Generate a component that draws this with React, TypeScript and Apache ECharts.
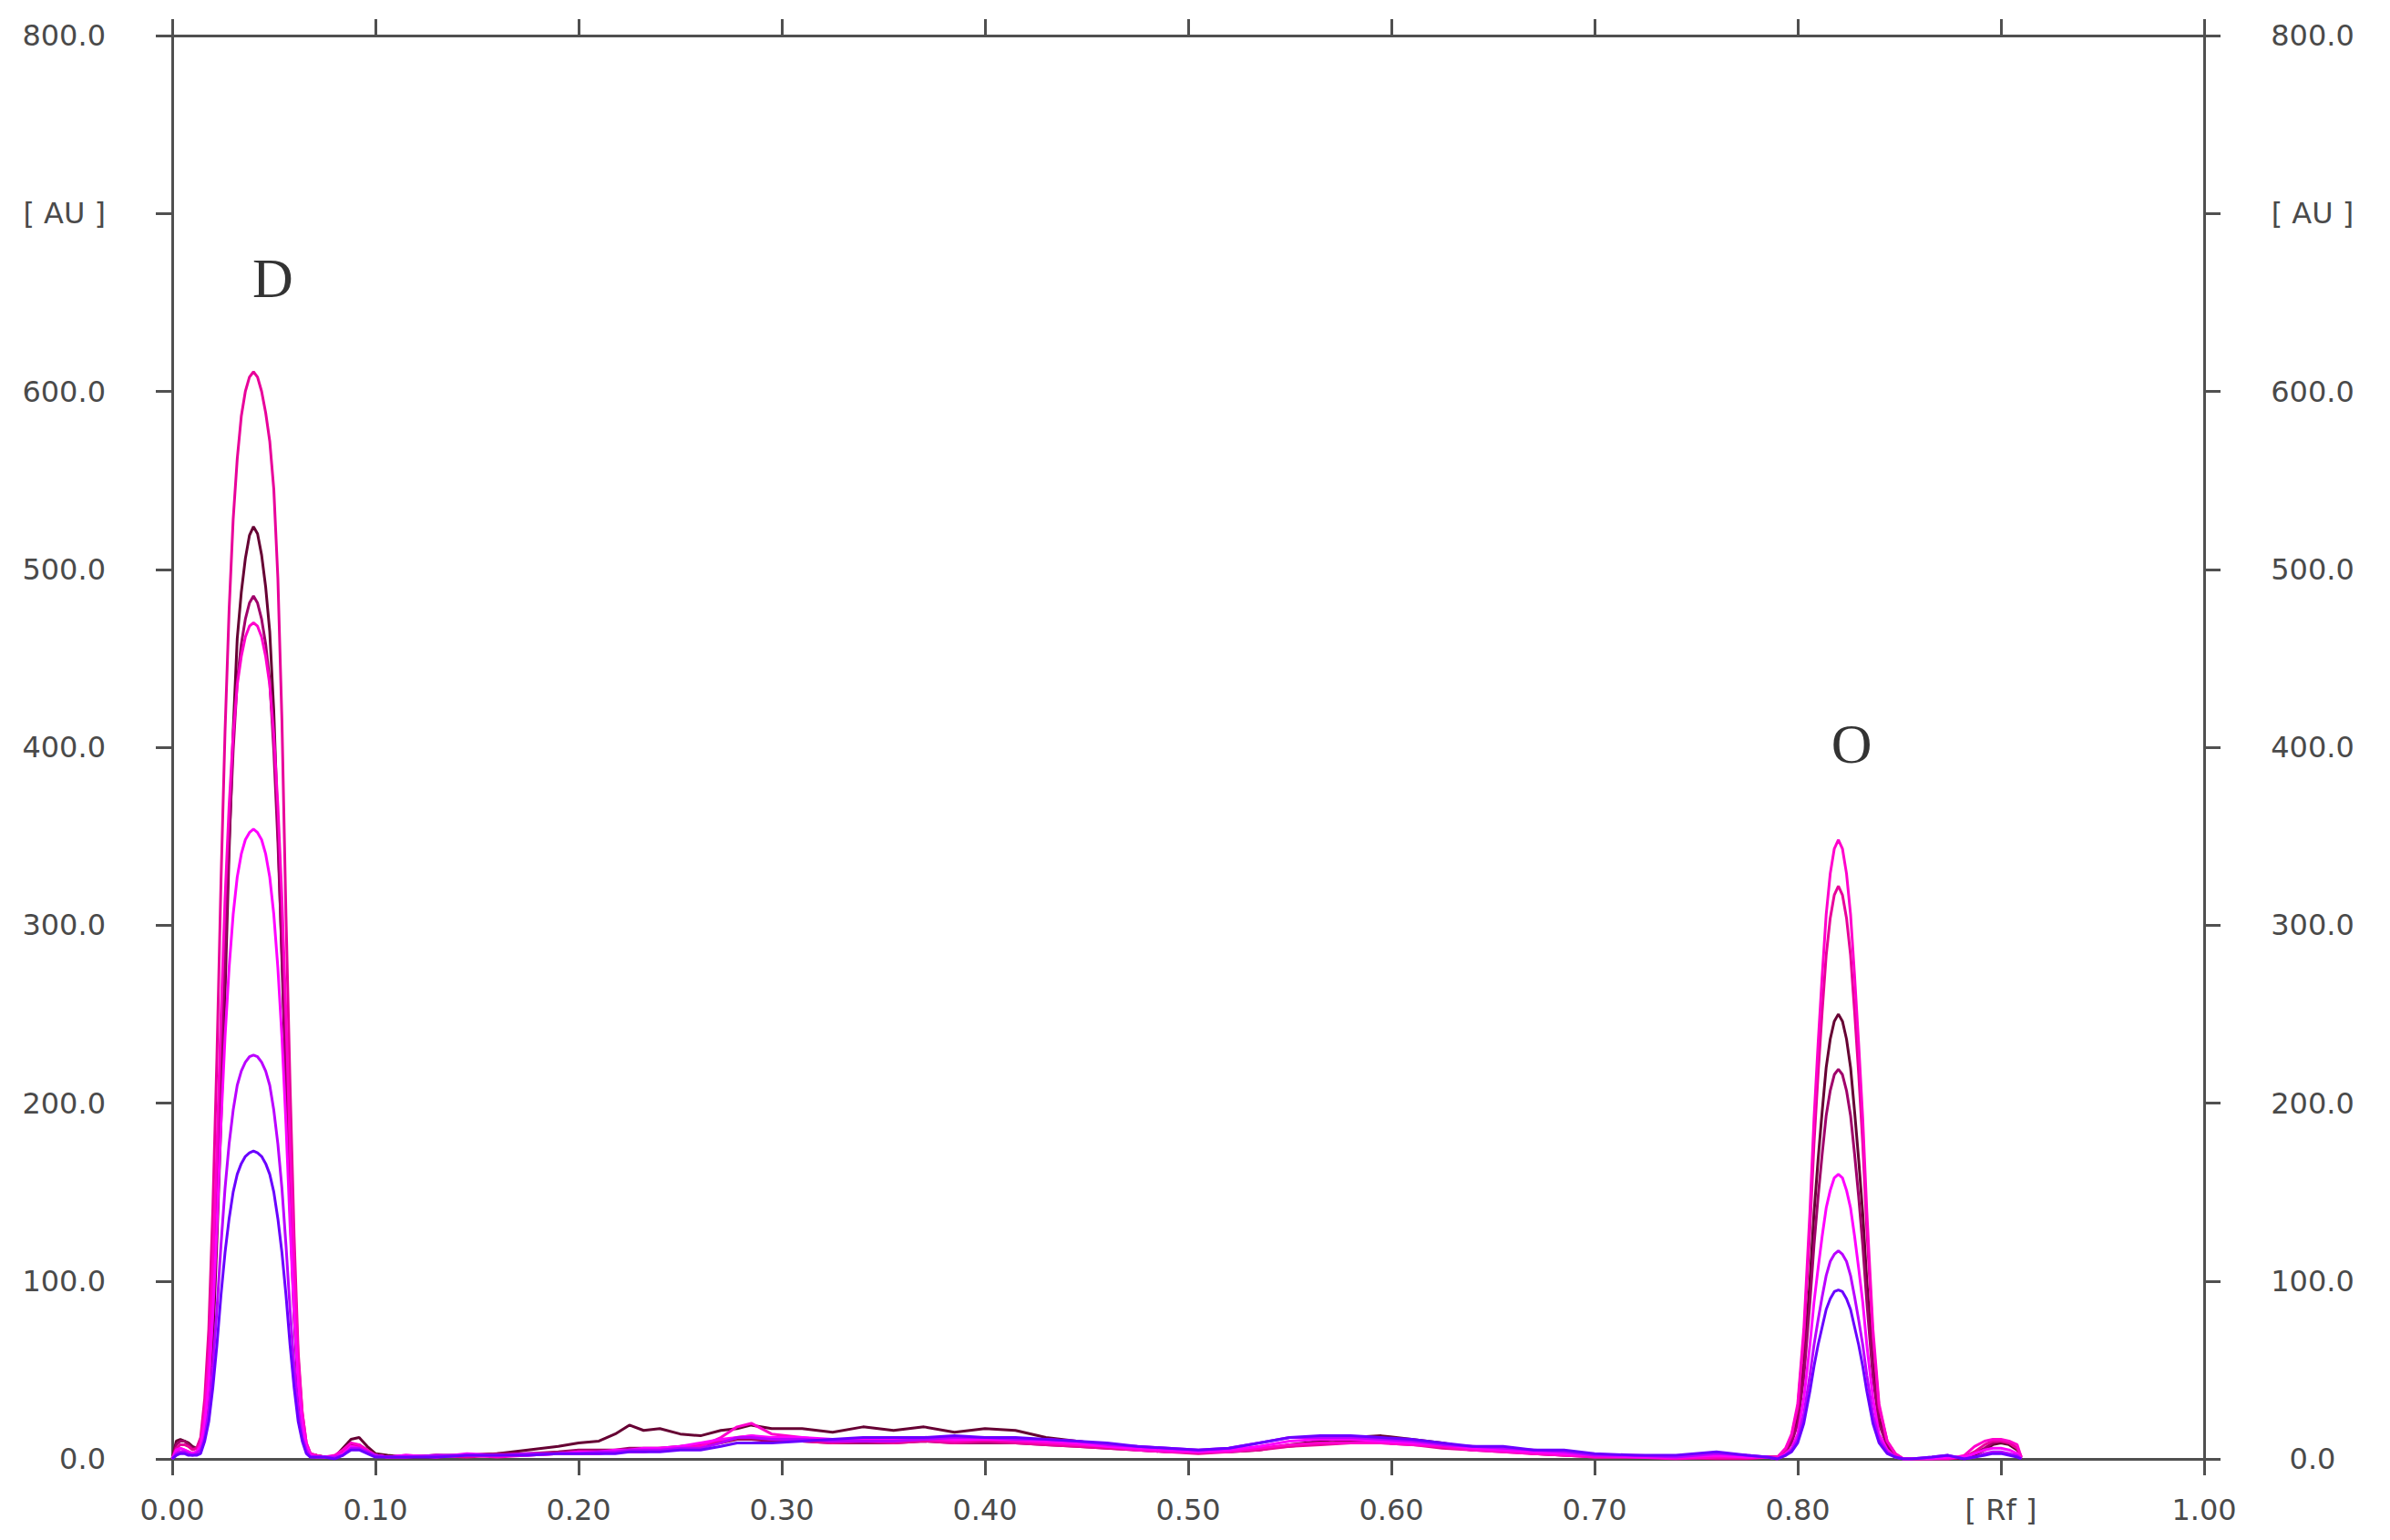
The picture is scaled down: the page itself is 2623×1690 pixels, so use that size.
import React, { useEffect, useRef } from "react";
import * as echarts from "echarts";

// Rf positions shared by all traces
const rf = [
  0.000, 0.002, 0.004, 0.006, 0.008, 0.010,
  0.012, 0.014, 0.016, 0.018, 0.020, 0.022, 0.024, 0.026, 0.028, 0.030, 0.032, 0.034, 0.036, 0.038,
  0.040, 0.042, 0.044, 0.046, 0.048, 0.050, 0.052, 0.054, 0.056, 0.058, 0.060, 0.062, 0.064, 0.066, 0.068,
  0.071, 0.075, 0.080, 0.084, 0.088, 0.092, 0.096, 0.100, 0.106, 0.115,
  0.130, 0.145, 0.160, 0.175, 0.190, 0.200, 0.210, 0.218, 0.225, 0.232,
  0.240, 0.250, 0.260, 0.270, 0.278, 0.285, 0.295, 0.310, 0.325, 0.340,
  0.355, 0.370, 0.385, 0.400, 0.415, 0.430, 0.445, 0.460, 0.475, 0.490,
  0.505, 0.520, 0.535, 0.550, 0.565, 0.580, 0.595, 0.610, 0.625, 0.640,
  0.655, 0.670, 0.685, 0.700, 0.720, 0.740, 0.760, 0.775, 0.785,
  0.790, 0.794, 0.797, 0.800, 0.803, 0.806, 0.808, 0.810, 0.812, 0.814, 0.816, 0.818, 0.820,
  0.822, 0.824, 0.826, 0.828, 0.830, 0.832, 0.834, 0.837, 0.840, 0.844, 0.848, 0.852,
  0.856, 0.866, 0.874, 0.882, 0.887, 0.892, 0.896, 0.900, 0.904, 0.908, 0.910,
];

const trackA = [
  0, 6, 8, 8, 7, 5,
  6, 12, 34, 73, 141, 226, 324, 409, 477, 528, 562, 586, 600, 608, 611, 608, 600, 588, 572, 545, 495, 415, 305, 210, 125, 60, 26, 9, 3,
  2, 1, 1, 3, 7, 7, 4, 2, 1, 1,
  2, 1, 2, 3, 3, 4, 4, 4, 5, 5,
  6, 6, 8, 10, 12, 13, 11, 10, 9, 10,
  9, 10, 9, 10, 9, 8, 7, 6, 5, 4,
  3, 4, 5, 7, 8, 9, 9, 8, 6, 5,
  4, 3, 2, 1, 1, 1, 0, 0, 1,
  1, 5, 13, 29, 68, 129, 177, 216, 251, 283, 304, 317, 322, 317, 304, 283, 251, 216, 177, 129, 68, 29, 10, 3, 0,
  0, 0, 0, 1, 4, 8, 10, 10, 9, 6, 1,
];
const trackB = [
  0, 4, 6, 5, 4, 3,
  4, 9, 26, 56, 108, 174, 249, 315, 367, 407, 435, 451, 462, 468, 470, 468, 462, 451, 435, 407, 367, 315, 249, 174, 108, 56, 26, 9, 3,
  2, 1, 2, 5, 9, 8, 5, 2, 1, 2,
  1, 2, 1, 2, 3, 3, 3, 4, 4, 4,
  5, 6, 7, 12, 18, 20, 14, 12, 10, 11,
  10, 11, 10, 11, 10, 9, 8, 7, 5, 4,
  4, 4, 6, 8, 9, 9, 9, 8, 7, 5,
  4, 3, 2, 1, 1, 0, 1, 1, 1,
  1, 6, 14, 31, 73, 139, 191, 233, 271, 306, 329, 343, 348, 343, 329, 306, 271, 233, 191, 139, 73, 31, 10, 3, 0,
  0, 0, 0, 2, 7, 10, 11, 11, 10, 8, 1,
];
const trackC = [
  0, 10, 11, 10, 9, 7,
  6, 5, 12, 31, 66, 123, 189, 262, 341, 409, 461, 487, 506, 519, 524, 520, 508, 490, 465, 420, 355, 280, 205, 140, 80, 38, 14, 5, 2,
  2, 1, 1, 6, 11, 12, 7, 3, 2, 1,
  1, 2, 3, 5, 7, 9, 10, 14, 19, 16,
  17, 14, 13, 16, 17, 19, 17, 17, 15, 18,
  16, 18, 15, 17, 16, 12, 10, 8, 6, 5,
  4, 4, 5, 8, 10, 12, 13, 11, 9, 6,
  5, 4, 3, 2, 1, 1, 1, 1, 1,
  1, 4, 10, 23, 53, 100, 138, 168, 195, 220, 236, 246, 250, 246, 236, 220, 195, 168, 138, 100, 53, 23, 8, 2, 0,
  0, 0, 1, 0, 2, 5, 8, 9, 8, 5, 0,
];
const trackD = [
  0, 8, 10, 10, 8, 6,
  6, 7, 18, 44, 87, 146, 216, 284, 347, 398, 437, 458, 472, 481, 485, 481, 472, 458, 437, 398, 347, 284, 216, 146, 87, 44, 18, 7, 2,
  2, 1, 1, 4, 8, 8, 5, 2, 1, 1,
  2, 2, 3, 3, 4, 5, 5, 5, 6, 6,
  6, 7, 8, 9, 11, 11, 10, 10, 9, 9,
  9, 10, 9, 9, 9, 8, 7, 6, 5, 4,
  4, 5, 6, 7, 9, 10, 9, 9, 7, 5,
  5, 3, 2, 2, 1, 1, 1, 1, 1,
  1, 4, 9, 20, 46, 88, 120, 147, 171, 193, 207, 216, 219, 216, 207, 193, 171, 147, 120, 88, 46, 20, 7, 2, 0,
  0, 0, 0, 1, 3, 6, 9, 10, 9, 6, 1,
];
const trackE = [
  0, 5, 6, 5, 4, 3,
  4, 7, 19, 42, 81, 131, 188, 237, 276, 306, 327, 340, 348, 352, 354, 352, 348, 340, 327, 306, 276, 237, 188, 131, 81, 42, 19, 7, 2,
  1, 1, 1, 3, 7, 6, 4, 2, 1, 2,
  1, 3, 2, 2, 3, 4, 4, 5, 5, 6,
  6, 7, 9, 11, 12, 13, 12, 12, 11, 11,
  11, 12, 11, 11, 11, 10, 9, 7, 6, 5,
  4, 5, 7, 10, 11, 11, 10, 9, 8, 6,
  5, 4, 3, 2, 1, 1, 2, 1, 1,
  0, 3, 6, 14, 34, 64, 88, 107, 125, 141, 151, 158, 160, 158, 151, 141, 125, 107, 88, 64, 34, 14, 5, 1, 0,
  0, 0, 1, 1, 3, 5, 6, 6, 5, 3, 0,
];
const trackF = [
  0, 3, 4, 4, 3, 2,
  3, 5, 12, 27, 52, 84, 120, 152, 177, 196, 210, 218, 223, 226, 227, 226, 223, 218, 210, 196, 177, 152, 120, 84, 52, 27, 12, 5, 1,
  1, 1, 1, 2, 6, 6, 4, 2, 1, 1,
  2, 2, 2, 3, 3, 3, 4, 4, 5, 5,
  5, 6, 6, 9, 12, 12, 11, 11, 10, 10,
  10, 11, 12, 12, 11, 11, 10, 8, 7, 6,
  5, 6, 9, 12, 12, 12, 11, 10, 8, 7,
  6, 5, 4, 2, 2, 1, 3, 2, 1,
  0, 2, 5, 11, 25, 47, 64, 78, 91, 103, 111, 115, 117, 115, 111, 103, 91, 78, 64, 47, 25, 11, 4, 1, 0,
  0, 1, 2, 0, 1, 3, 4, 4, 3, 2, 0,
];
const trackG = [
  0, 2, 3, 3, 2, 2,
  2, 3, 10, 21, 40, 64, 92, 116, 135, 150, 160, 166, 170, 172, 173, 172, 170, 166, 160, 150, 135, 116, 92, 64, 40, 21, 10, 3, 1,
  1, 1, 0, 2, 5, 5, 3, 1, 1, 1,
  1, 2, 2, 2, 3, 3, 3, 3, 4, 4,
  4, 5, 5, 7, 9, 9, 9, 10, 11, 12,
  12, 12, 13, 12, 12, 11, 10, 9, 7, 6,
  5, 6, 9, 12, 13, 13, 12, 11, 9, 7,
  7, 5, 5, 3, 2, 2, 4, 2, 1,
  0, 2, 4, 9, 20, 38, 52, 64, 74, 84, 90, 94, 95, 94, 90, 84, 74, 64, 52, 38, 20, 9, 3, 1, 0,
  0, 1, 2, 0, 1, 2, 3, 3, 2, 1, 0,
];

const tracks = [trackC, trackD, trackA, trackB, trackE, trackF, trackG];
const trackColors = ["#660033", "#a0006a", "#e8009a", "#ff00cc", "#ff00ff", "#bb00ff", "#6a00ff"];
const trackNames = ["Track C", "Track D", "Track A", "Track B", "Track E", "Track F", "Track G"];

// peak annotations: [Rf, AU, text]
const peakNotes: [number, number, string][] = [
  [0.0495, 664, "D"],
  [0.8265, 402, "O"],
];

const yTicksLabel = (v: number) => (Math.abs(v - 700) < 1e-6 ? "[ AU ]" : v.toFixed(1));
const xTicksLabel = (v: number) => (Math.abs(v - 0.9) < 1e-6 ? "[ Rf ]" : v.toFixed(2));

const axisColor = "#505050";
const labelColor = "#4a4a4a";
const fontFam = "DejaVu Sans";

export default function App() {
  const ref = useRef<HTMLDivElement>(null);
  useEffect(() => {
    if (!ref.current) return;
    const chart = echarts.init(ref.current, undefined, { renderer: "svg" });
    const lineStyle = { color: axisColor, width: 3 };
    const series: any[] = tracks.map((t, i) => ({
      name: trackNames[i],
      type: "line",
      xAxisIndex: 0,
      yAxisIndex: 0,
      showSymbol: false,
      symbol: "none",
      data: rf.slice(0, t.length).map((x, j) => [x, t[j]]),
      lineStyle: { color: trackColors[i], width: 3 },
      itemStyle: { color: trackColors[i] },
      z: 2 + i,
    }));
    series.push({
      type: "scatter",
      xAxisIndex: 0,
      yAxisIndex: 0,
      silent: true,
      symbolSize: 1,
      itemStyle: { color: "rgba(0,0,0,0)" },
      data: peakNotes.map((p) => ({ value: [p[0], p[1]], name: p[2] })),
      label: {
        show: true,
        position: "inside",
        formatter: (p: any) => p.name,
        fontFamily: "Liberation Serif",
        fontSize: 62,
        color: "#000",
      },
      z: 20,
    });
    chart.setOption({
      animation: false,
      backgroundColor: "#ffffff",
      grid: { left: 189, right: 204, top: 39, bottom: 89, containLabel: false },
      xAxis: [
        {
          type: "value",
          position: "bottom",
          min: 0,
          max: 1,
          interval: 0.1,
          axisLine: { show: true, onZero: false, lineStyle },
          axisTick: { show: true, inside: false, length: 18, lineStyle },
          splitLine: { show: false },
          axisLabel: {
            formatter: xTicksLabel,
            fontSize: 32,
            fontFamily: fontFam,
            color: labelColor,
            margin: 40,
          },
        },
        {
          type: "value",
          position: "top",
          min: 0,
          max: 1,
          interval: 0.1,
          axisLine: { show: true, onZero: false, lineStyle },
          axisTick: { show: true, inside: false, length: 18, lineStyle },
          splitLine: { show: false },
          axisLabel: { show: false },
        },
      ],
      yAxis: [
        {
          type: "value",
          position: "left",
          min: 0,
          max: 800,
          interval: 100,
          axisLine: { show: true, onZero: false, lineStyle },
          axisTick: { show: true, inside: false, length: 18, lineStyle },
          splitLine: { show: false },
          axisLabel: {
            formatter: yTicksLabel,
            fontSize: 32,
            fontFamily: fontFam,
            color: labelColor,
            margin: 73,
          },
        },
        {
          type: "value",
          position: "right",
          min: 0,
          max: 800,
          interval: 100,
          axisLine: { show: true, onZero: false, lineStyle },
          axisTick: { show: true, inside: false, length: 18, lineStyle },
          splitLine: { show: false },
          axisLabel: {
            formatter: yTicksLabel,
            fontSize: 32,
            fontFamily: fontFam,
            color: labelColor,
            align: "center",
            margin: 119,
          },
        },
      ],
      series,
    });
    return () => chart.dispose();
  }, []);
  return (
    <div
      ref={ref}
      style={{ position: "absolute", left: 0, top: 0, width: 2623, height: 1690, background: "#fff" }}
    />
  );
}
